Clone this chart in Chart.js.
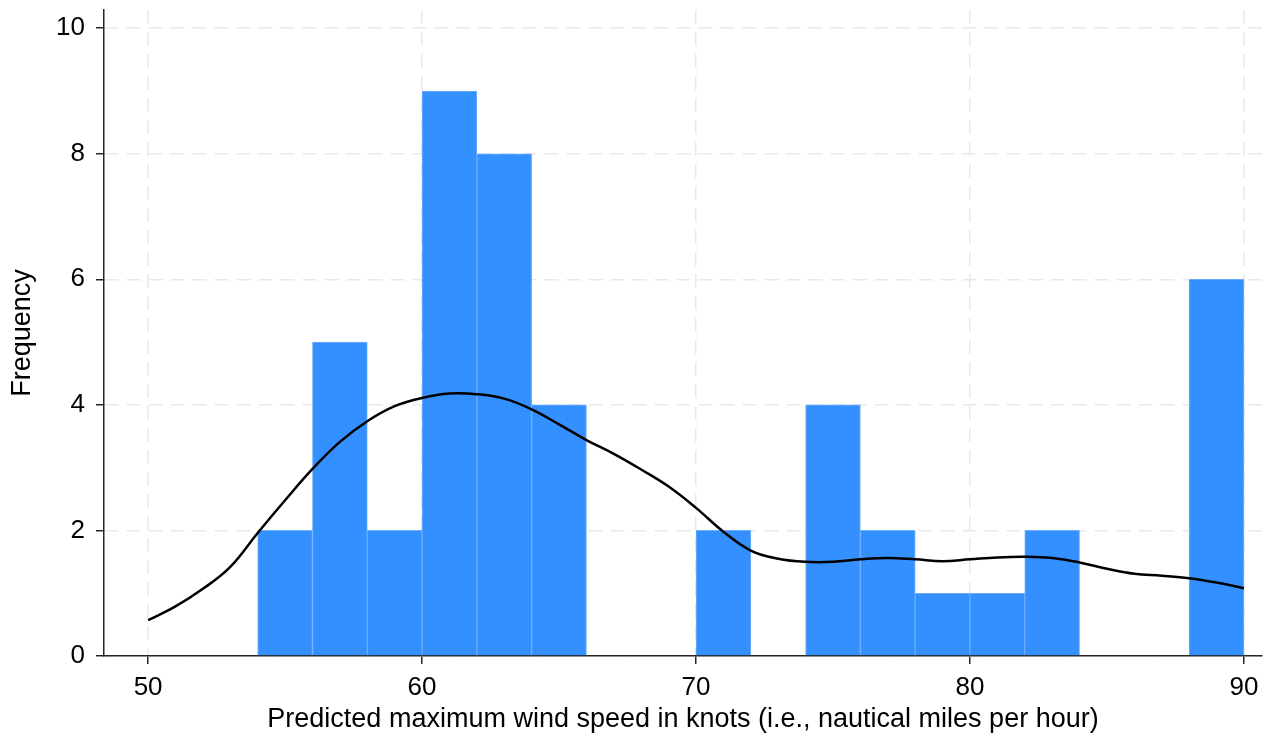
<!DOCTYPE html>
<html>
<head>
<meta charset="utf-8">
<script src="https://cdn.jsdelivr.net/npm/chart.js@4.4.1/dist/chart.umd.min.js"></script>
<style>
  html, body { margin: 0; padding: 0; background: #fff; }
  #wrap { width: 1270px; height: 738px; }
</style>
</head>
<body>
<div id="wrap"><canvas id="histChart" width="1270" height="738"></canvas></div>
<script>
// histogram bins (width 2 knots), start of each bin
const binStarts = [54, 56, 58, 60, 62, 64, 66, 68, 70, 72, 74, 76, 78, 80, 82, 84, 86, 88];
const binCounts = [2, 5, 2, 9, 8, 4, 0, 0, 2, 0, 4, 2, 1, 1, 2, 0, 0, 6];
const binWidth = 2;

// kernel density curve (scaled to frequency)
const kdeX = [50, 51, 52, 53, 54, 55, 56, 57, 58, 59, 60, 61, 62, 63, 64, 65, 66, 67, 68, 69, 70,
              71, 72, 73, 74, 75, 76, 77, 78, 79, 80, 81, 82, 83, 84, 85, 86, 87, 88, 89, 90];
const kdeY = [0.57, 0.79, 1.07, 1.42, 1.96, 2.48, 2.98, 3.41, 3.74, 3.98, 4.11, 4.18, 4.17, 4.10, 3.93, 3.69, 3.44, 3.22, 2.97, 2.70, 2.36,
              1.98, 1.68, 1.55, 1.50, 1.50, 1.54, 1.56, 1.54, 1.51, 1.54, 1.57, 1.58, 1.56, 1.49, 1.39, 1.31, 1.28, 1.24, 1.17, 1.08];

const xTicks = [50, 60, 70, 80, 90];
const yTicks = [0, 2, 4, 6, 8, 10];

const axisColor = '#262626';
const gridColor = '#e9e9e9';
const fontFamily = '"Liberation Sans", Arial, sans-serif';

const ctx = document.getElementById('histChart').getContext('2d');
const histChart = new Chart(ctx, {
    type: 'bar',
    data: {
        datasets: [
            {
                type: 'line',
                data: kdeX.map((x, i) => ({ x: x, y: kdeY[i] })),
                borderColor: '#000',
                borderWidth: 2.5,
                pointRadius: 0,
                tension: 0.4,
                fill: false,
                order: 0
            },
            {
                type: 'bar',
                data: binStarts.map((s, i) => ({ x: s + binWidth / 2, y: binCounts[i] })),
                backgroundColor: '#3590ff',
                borderColor: '#6cadff',
                borderWidth: 1,
                barPercentage: 1,
                categoryPercentage: 1,
                order: 1
            }
        ]
    },
    options: {
        responsive: false,
        animation: false,
        layout: { padding: { top: 10, right: 8, left: 0, bottom: 0 } },
        plugins: {
            legend: { display: false },
            tooltip: { enabled: false }
        },
        scales: {
            x: {
                type: 'linear',
                min: 48.39,
                max: 90.66,
                offset: false,
                afterBuildTicks: (scale) => { scale.ticks = xTicks.map(v => ({ value: v })); },
                afterFit: (scale) => {
                    scale.height = 82;
                    scale.paddingLeft = 0;
                    scale.paddingRight = 0;
                },
                grid: {
                    offset: false,
                    color: gridColor,
                    lineWidth: 1.5,
                    tickLength: 8,
                    tickColor: axisColor,
                    tickWidth: 1.5,
                    tickBorderDash: []
                },
                border: { display: true, color: axisColor, width: 1.5, dash: [14, 8] },
                ticks: {
                    color: '#000',
                    padding: 8,
                    maxRotation: 0,
                    font: { family: fontFamily, size: 26 }
                },
                title: {
                    display: true,
                    text: 'Predicted maximum wind speed in knots (i.e., nautical miles per hour)',
                    color: '#000',
                    padding: { top: 0, bottom: 2 },
                    font: { family: fontFamily, size: 27, lineHeight: 1.2 }
                }
            },
            y: {
                min: 0,
                max: 10.29,
                afterBuildTicks: (scale) => { scale.ticks = yTicks.map(v => ({ value: v })); },
                afterFit: (scale) => {
                    scale.width = 104;
                    scale.paddingTop = 0;
                    scale.paddingBottom = 0;
                },
                grid: {
                    color: gridColor,
                    lineWidth: 1.5,
                    tickLength: 8,
                    tickColor: axisColor,
                    tickWidth: 1.5,
                    tickBorderDash: []
                },
                border: { display: true, color: axisColor, width: 1.5, dash: [14, 8] },
                ticks: {
                    color: '#000',
                    padding: 11,
                    font: { family: fontFamily, size: 26 }
                },
                title: {
                    display: true,
                    text: 'Frequency',
                    color: '#000',
                    padding: { top: 6, bottom: 0 },
                    font: { family: fontFamily, size: 27, lineHeight: 1.2 }
                }
            }
        }
    }
});
</script>
</body>
</html>
